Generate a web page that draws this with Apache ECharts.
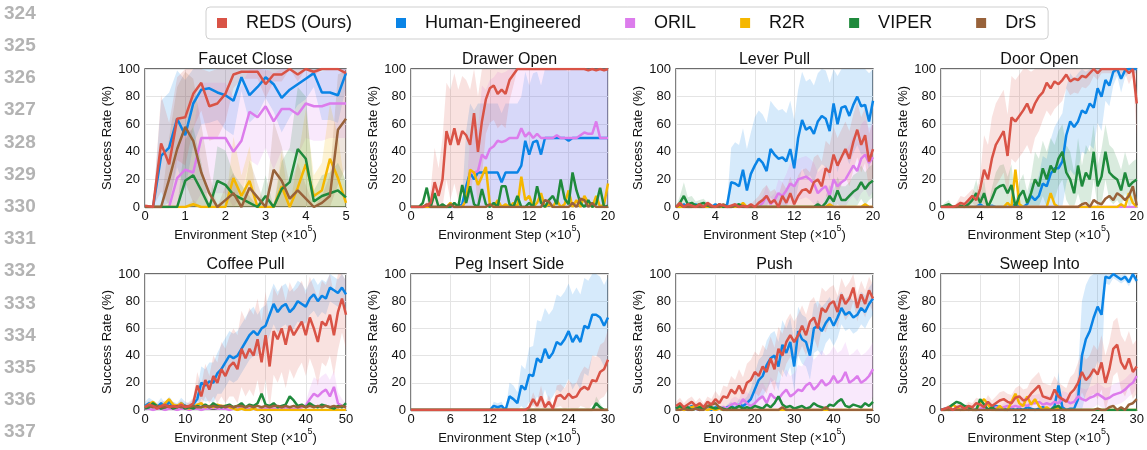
<!DOCTYPE html>
<html>
<head>
<meta charset="utf-8">
<script src="https://cdn.jsdelivr.net/npm/echarts@6/dist/echarts.min.js"></script>
<style>
  html, body { margin: 0; background: #fff; }
  #chart { width: 1147px; height: 450px; }
</style>
</head>
<body>
<div id="chart"></div>
<script>
// ---- labels ----
const methods = ['REDS (Ours)', 'Human-Engineered', 'ORIL', 'R2R', 'VIPER', 'DrS'];
const colors = ['#d95346', '#0a84e6', '#dc7cec', '#f5b700', '#1f8a3c', '#98623a'];
const titles = ['Faucet Close', 'Drawer Open', 'Lever Pull', 'Door Open',
                'Coffee Pull', 'Peg Insert Side', 'Push', 'Sweep Into'];
const xMax = [5, 20, 20, 20, 50, 30, 50, 30];
const xStep = [0.2, 0.4, 0.4, 0.4, 1, 0.6, 1, 0.6];
const xTickStep = [1, 4, 4, 4, 10, 6, 10, 6];
const yTicks = [0, 20, 40, 60, 80, 100];
const lineNumbers = ['324', '325', '326', '327', '328', '329', '330', '331', '332', '333', '334', '335', '336', '337'];

// ---- Faucet Close (step 0.2) ----
const fcReds  = [1,0,46,31,64,65,82,90,73,75,82,96,98,98,98,89,96,96,100,96,100,98,100,100,100,97];
const fcHuman = [0,0,37,43,64,52,75,85,86,83,81,77,94,81,87,94,89,79,85,89,93,97,83,83,81,97];
const fcOril  = [0,0,0,0,21,27,25,50,50,50,50,40,48,69,65,73,62,71,71,67,75,73,73,75,75,75];
const fcR2r   = [0,0,0,0,0,0,2,0,0,0,0,21,8,19,0,0,0,15,0,14,31,8,12,35,21,3];
const fcViper = [0,0,0,0,0,19,23,12,0,19,16,9,6,3,0,8,0,13,18,42,35,4,8,10,12,7];
const fcDrs   = [0,0,0,20,42,58,48,25,10,0,5,10,0,14,7,0,27,19,6,12,6,0,3,8,56,64];
const fcRedsSd  = [0,0,35,30,30,35,25,20,25,25,20,10,5,5,5,10,5,5,0,5,0,3,0,0,0,3];
const fcHumanSd = [0,0,40,40,35,40,30,25,25,20,25,25,10,20,20,15,20,25,20,15,15,10,20,20,20,10];
const fcOrilSd  = [0,0,0,0,20,30,30,40,40,40,40,40,40,35,35,30,35,30,30,30,25,25,25,25,25,25];
const fcR2rSd   = [0,0,0,0,0,0,3,0,0,0,0,30,15,25,0,0,0,25,0,20,40,15,20,40,30,8];
const fcViperSd = [0,0,0,0,0,30,35,20,0,25,25,15,10,5,0,15,0,20,25,45,45,8,15,15,20,12];
const fcDrsSd   = [0,0,0,30,45,40,45,35,15,0,10,15,0,20,10,0,35,25,10,20,10,0,5,15,40,35];

// ---- Drawer Open (step 0.4) ----
const drReds  = [0,0,0,0,1,3,18,8,20,55, 45,57,45,55,52,45,68,40,62,78, 86,88,82,85,82,92,96,100,100,100,
                 100,100,100,100,100,100,100,100,100,100, 100,100,100,100,100,99,100,99,100,99, 100];
const drHuman = [0,0,0,0,0,0,0,0,0,0, 0,0,0,2,15,25,20,25,25,25, 25,25,25,18,25,25,25,25,30,48,
                 38,47,48,38,50,50,50,50,50,50, 48,50,50,50,50,50,50,50,50,50, 50];
const drOril  = [0,0,0,0,0,0,0,0,0,0, 0,0,0,0,5,25,25,26,38,35, 42,44,48,47,48,50,50,50,57,51,
                 54,50,53,50,50,50,50,52,50,50, 50,50,50,52,54,53,53,62,50,50, 50];
const drR2r   = [0,0,0,0,0,0,0,0,0,0, 3,0,0,0,5,27,25,16,22,29, 2,0,5,0,2,0,3,0,22,5,
                 8,0,3,10,0,2,0,5,0,2, 12,0,5,0,8,3,0,8,0,2, 17];
const drViper = [0,0,0,3,14,0,10,0,2,0, 0,3,0,16,3,15,2,0,13,2, 0,3,0,15,15,2,0,8,0,0,
                 3,0,15,3,0,5,8,2,20,6, 2,25,12,3,0,5,0,2,14,0, 1];
const drDrs   = [0,0,0,0,2,0,0,0,0,0, 2,0,0,0,0,0,0,0,0,0, 2,0,0,0,0,0,0,0,0,0,
                 0,0,0,0,5,4,0,0,0,0, 0,3,0,6,5,0,3,0,0,0, 0];
const drRedsSd  = [0,0,0,0,3,10,25,20,30,35, 40,40,40,40,40,40,40,40,40,25, 25,25,25,25,25,15,8,0,0,0,
                   0,0,0,0,0,0,0,0,0,0, 0,0,0,0,0,0,0,0,0,0, 0];
const drHumanSd = [0,0,0,0,0,0,0,0,0,0, 0,0,0,5,40,50,50,50,50,50, 50,50,50,50,50,50,50,50,50,50,
                   50,50,50,50,50,50,50,50,50,50, 50,50,50,50,50,50,50,50,50,50, 50];
const drOrilSd  = [0,0,0,0,0,0,0,0,0,0, 0,0,0,0,5,25,30,30,50,50, 50,50,50,50,50,50,50,50,50,50,
                   50,50,50,50,50,50,50,50,50,50, 50,50,50,50,50,50,50,50,50,50, 50];

// ---- Lever Pull (step 0.4) ----
const lpReds  = [0,3,0,2,1,0,2,0,3,1, 0,2,1,0,1,2,0,1,0,2, 0,3,5,8,3,5,0,8,3,10,
                 2,8,12,13,10,18,20,15,28,25, 38,30,36,42,35,47,56,45,52,33, 42];
const lpHuman = [0,0,2,0,0,2,0,0,0,0, 2,0,0,2,18,17,15,27,12,24, 30,35,32,26,42,38,35,36,33,42,
                 28,50,63,56,58,53,62,66,64,55, 75,60,72,73,66,74,80,73,74,62, 77];
const lpOril  = [0,0,0,0,0,0,0,0,0,0, 0,0,0,0,0,0,0,0,0,0, 0,0,3,8,2,5,10,8,12,17,
                 15,20,21,22,20,17,10,13,15,8, 20,15,18,20,25,30,26,35,38,32, 36];
const lpR2r   = [0,0,0,0,0,0,0,0,0,0, 0,0,0,0,0,0,0,3,0,0, 0,0,0,0,0,0,0,0,0,0,
                 0,0,0,0,0,0,0,0,0,2, 0,0,0,0,0,0,0,0,2,0, 0];
const lpViper = [0,3,8,2,3,1,2,3,1,0, 0,2,0,0,0,1,2,0,0,0, 0,0,0,0,0,0,0,0,0,0,
                 0,0,0,0,0,0,2,0,3,8, 4,12,5,5,8,11,13,18,13,17, 19];
const lpDrs   = [0,2,0,0,0,0,0,0,2,0, 0,0,2,0,0,1,0,0,0,0, 0,0,0,0,0,0,0,0,0,0,
                 0,0,0,0,0,0,0,0,0,0, 0,0,0,0,0,0,0,0,0,0, 0];
const lpRedsSd  = [0,0,0,0,0,0,0,0,0,0, 0,0,0,0,0,0,0,0,0,0, 5,5,8,8,8,8,8,10,10,12,
                   12,15,15,15,15,18,18,18,20,20, 20,20,20,20,20,20,20,20,20,20, 20];
const lpHumanSd = [0,0,0,0,0,0,0,0,0,0, 0,0,0,3,25,30,30,30,30,30, 35,35,35,35,35,35,35,35,35,35,
                   35,35,35,35,35,35,35,35,35,35, 35,35,35,35,35,35,35,35,35,35, 35];
const lpOrilSd  = [0,0,0,0,0,0,0,0,0,0, 0,0,0,0,0,0,0,0,0,0, 0,0,5,8,5,5,10,10,12,15,
                   15,15,15,15,15,15,15,15,15,15, 18,18,18,20,20,22,22,25,25,25, 25];
const lpViperSd = [0,5,10,5,5,3,3,3,2,0, 0,0,0,0,0,0,0,0,0,0, 0,0,0,0,0,0,0,0,0,0,
                   0,0,0,0,0,0,3,0,5,8, 8,10,10,10,10,12,12,12,12,12, 12];

// ---- Door Open (step 0.4) ----
const dorReds  = [0,0,0,0,1,3,2,5,8,5, 13,27,20,35,45,50,55,37,65,62, 66,70,75,68,75,80,83,90,86,91,
                  89,92,96,91,93,92,95,94,97,100, 97,100,100,100,100,100,100,100,97,100, 75];
const dorHuman = [0,0,0,0,0,0,0,0,0,0, 2,0,0,1,0,0,0,0,0,2, 0,0,2,8,5,8,17,15,24,28,
                  28,33,52,62,58,62,70,68,75,72, 86,80,92,88,98,100,93,99,100,100, 100];
const dorOril  = [0,0,0,0,0,0,0,0,0,0, 0,0,0,0,0,0,0,0,0,0, 0,0,0,0,0,0,0,0,0,0,
                  0,0,0,0,0,0,0,0,0,0, 0,0,0,0,0,0,0,0,0,0, 0];
const dorR2r   = [0,0,0,0,0,0,0,0,0,0, 0,0,0,0,0,0,0,3,0,27, 2,0,0,0,0,0,0,0,10,2,
                  0,0,0,0,0,0,0,0,0,0, 0,0,0,0,0,0,2,0,10,3, 0];
const dorViper = [0,1,2,0,0,1,0,2,5,10, 3,10,0,6,13,15,16,10,16,0, 8,12,3,10,20,15,28,20,30,25,
                  35,40,25,20,10,30,15,25,20,40, 15,22,40,25,22,20,12,25,15,18, 20];
const dorDrs   = [0,0,0,0,0,0,0,0,0,0, 0,0,0,0,0,0,0,0,0,0, 0,0,0,0,0,0,0,0,0,0,
                  0,0,0,0,0,0,2,3,0,5, 3,2,6,8,5,10,8,5,8,15, 1];
const dorRedsSd  = [0,0,0,0,2,5,5,5,5,5, 10,25,25,30,30,30,30,30,30,30, 30,30,30,30,25,25,20,20,20,20,
                    15,15,10,10,10,10,8,8,8,5, 5,3,3,3,3,3,3,3,8,5, 25];
const dorHumanSd = [0,0,0,0,0,0,0,0,0,0, 0,0,0,0,0,0,0,0,0,0, 0,0,3,10,10,15,20,20,25,30,
                    35,35,35,35,35,35,30,30,30,30, 25,25,15,15,10,5,10,5,3,3, 3];
const dorViperSd = [0,2,3,0,0,2,0,3,5,10, 5,10,0,8,12,15,15,12,15,5, 10,12,8,12,20,20,20,20,20,20,
                    20,20,20,20,15,20,15,20,20,20, 15,20,20,20,20,15,15,15,15,15, 15];

// ---- Coffee Pull (step 1) ----
const cpReds  = [2,4,3,1,3,4,2,3,2,4, 2,3,5,18,10,22,15,25,20,30, 25,32,35,30,45,38,45,40,52,35,
                 55,32,58,52,60,48,62,55,60,65, 55,68,60,50,65,62,70,55,72,82, 70];
const cpHuman = [3,5,4,2,5,2,6,3,2,5, 3,2,4,8,20,18,21,20,27,30, 35,40,38,40,45,50,55,58,55,60,
                 62,70,78,72,76,78,72,75,80,78, 76,82,85,80,84,82,90,88,86,90, 85];
const cpOril  = [1,1,0,1,1,0,1,1,0,1, 1,0,1,1,0,1,1,2,1,1, 1,0,1,1,2,1,1,1,0,1,
                 1,2,1,1,1,2,1,1,1,2, 3,8,12,10,13,15,10,17,5,3, 2];
const cpR2r   = [2,4,6,3,2,5,8,4,3,5, 2,1,2,4,5,2,3,2,4,3, 3,2,1,0,1,0,0,1,0,0,
                 0,0,0,0,0,0,0,0,0,0, 0,0,0,0,0,0,0,0,0,0, 0];
const cpViper = [1,2,5,3,1,2,3,1,2,3, 1,2,1,3,2,4,2,5,3,2, 3,4,2,3,5,2,4,3,5,12,
                 4,3,5,2,3,4,10,7,3,4, 2,5,3,2,4,3,2,1,3,2, 5];
const cpDrs   = [2,3,2,3,2,2,3,2,3,2, 3,2,3,2,2,3,2,3,2,3, 2,3,2,3,3,2,3,2,3,2,
                 3,2,3,3,2,3,2,3,2,3, 2,3,2,3,2,3,2,3,2,3, 2];
const cpRedsSd  = [2,3,3,2,3,3,2,3,2,3, 2,3,4,10,8,12,10,15,15,20, 20,22,25,25,28,28,30,30,30,30,
                   32,32,32,32,32,32,32,32,30,30, 30,30,30,32,30,30,30,30,28,25, 25];
const cpHumanSd = [3,4,3,3,4,3,4,3,3,4, 3,3,4,8,12,12,14,15,15,18, 18,18,18,18,18,18,18,18,15,15,
                   15,15,15,15,15,15,15,15,15,15, 12,12,12,12,12,12,10,10,10,10, 10];
const cpOrilSd  = [0,0,0,0,0,0,0,0,0,0, 0,0,0,0,0,0,0,0,0,0, 0,0,0,0,0,0,0,0,0,0,
                   0,0,0,0,0,0,0,0,0,0, 3,8,12,12,12,12,12,12,8,5, 3];

// ---- Peg Insert Side (step 0.6) ----
const pgReds  = [0,0,0,0,0,0,0,0,0,0, 0,0,0,0,0,0,0,0,0,0, 0,0,0,0,0,0,0,0,0,0,
                 2,8,3,10,2,6,1,10,11,8, 12,9,10,15,17,15,22,21,28,30, 37];
const pgHuman = [0,0,0,0,0,0,0,0,0,0, 0,0,0,0,0,0,0,0,0,0, 0,3,2,3,0,10,8,5,18,15,
                 26,25,38,35,45,38,42,50,48,52, 58,50,55,50,62,60,70,70,68,62, 68];
const pgOril  = [0,0,0,0,0,0,0,0,0,0, 0,0,0,0,0,0,0,0,0,0, 0,0,0,0,0,0,0,0,0,0,
                 0,0,0,0,0,0,0,0,0,0, 0,0,0,0,0,0,0,0,0,0, 0];
const pgR2r   = [0,0,0,0,0,0,0,0,0,0, 0,0,0,0,0,0,0,0,0,0, 0,0,0,0,0,0,0,0,0,0,
                 0,0,0,0,0,0,0,0,0,0, 0,0,0,0,0,0,0,0,0,0, 0];
const pgViper = [0,0,0,0,0,0,0,0,0,0, 0,0,0,0,0,0,0,0,0,0, 0,0,0,0,0,0,0,0,0,0,
                 0,0,0,0,0,0,0,0,0,0, 0,0,0,0,0,0,0,5,2,0, 0];
const pgDrs   = [0,0,0,0,0,0,0,0,0,0, 0,0,0,0,0,0,0,0,0,0, 0,0,0,0,0,0,0,0,0,0,
                 0,0,0,0,0,0,0,0,0,0, 0,0,0,0,0,0,0,0,0,0, 0];
const pgRedsSd  = [0,0,0,0,0,0,0,0,0,0, 0,0,0,0,0,0,0,0,0,0, 0,0,0,0,0,0,0,0,0,0,
                   2,5,3,8,3,5,2,8,8,8, 10,10,10,12,15,15,18,18,20,20, 22];
const pgHumanSd = [0,0,0,0,0,0,0,0,0,0, 0,0,0,0,0,0,0,0,0,0, 0,3,3,3,0,10,10,8,15,15,
                   20,22,28,30,30,32,32,35,35,35, 35,35,35,35,35,35,30,30,30,30, 30];
const pgViperSd = [0,0,0,0,0,0,0,0,0,0, 0,0,0,0,0,0,0,0,0,0, 0,0,0,0,0,0,0,0,0,0,
                   0,0,0,0,0,0,0,0,0,0, 0,0,0,0,0,0,0,5,3,0, 0];

// ---- Push (step 1) ----
const psReds  = [3,5,2,4,6,3,5,2,6,4, 8,5,10,9,15,12,18,12,20,22, 28,25,32,28,38,30,45,40,50,55,
                 50,55,62,55,65,68,60,75,72,78, 80,72,85,78,82,90,75,85,78,88, 82];
const psHuman = [1,2,0,1,3,1,0,2,1,0, 2,1,0,2,3,1,4,3,5,8, 15,22,25,33,38,40,32,48,42,50,
                 32,58,52,50,40,60,62,58,64,68, 62,68,75,70,72,68,70,75,72,78, 82];
const psOril  = [0,1,0,1,2,1,0,1,2,1, 0,1,2,1,4,5,3,8,5,3, 5,8,10,5,12,9,8,12,15,10,
                 12,15,14,18,20,15,18,22,18,20, 25,20,22,28,20,22,25,20,22,25, 30];
const psR2r   = [0,1,0,1,2,3,4,1,0,1, 0,1,0,0,0,0,0,0,0,0, 0,0,0,0,0,0,0,0,0,0,
                 0,0,0,0,0,0,0,0,0,0, 0,0,0,0,0,0,0,0,0,0, 0];
const psViper = [1,3,1,2,0,1,2,1,3,2, 1,2,1,0,2,1,3,1,2,1, 3,2,1,4,2,5,10,4,2,3,
                 1,2,3,1,2,5,3,2,1,4, 3,6,8,3,2,4,3,2,5,3, 6];
const psDrs   = [0,0,1,0,0,1,0,0,3,4, 5,2,0,0,0,0,0,0,0,0, 0,0,0,0,0,0,0,2,0,0,
                 0,0,0,0,0,0,0,0,2,0, 0,0,0,0,0,0,0,0,0,0, 0];
const psRedsSd  = [3,4,3,4,4,3,4,3,4,4, 6,5,8,8,10,10,12,12,14,15, 15,15,16,16,16,16,16,16,16,16,
                   15,15,15,15,15,15,15,15,15,12, 12,12,12,12,12,10,10,10,10,10, 10];
const psHumanSd = [2,2,1,2,2,2,1,2,2,1, 2,2,1,2,3,2,4,4,5,8, 12,15,15,18,18,18,18,18,18,18,
                   18,18,18,18,18,18,18,18,15,15, 15,15,12,12,12,12,12,12,12,12, 12];
const psOrilSd  = [0,1,0,1,2,1,0,1,2,1, 0,1,2,1,4,5,5,8,8,8, 8,10,10,10,12,12,12,14,15,15,
                   15,18,18,20,22,22,22,22,22,22, 22,22,22,22,20,20,20,20,20,20, 20];

// ---- Sweep Into (step 0.6) ----
const swReds  = [0,1,2,0,2,3,1,3,2,5, 4,2,6,3,5,7,8,6,5,9, 10,7,8,12,15,18,10,9,8,15,
                 10,8,6,12,15,20,28,22,25,30, 26,35,20,30,45,48,35,30,38,28, 32];
const swHuman = [0,1,0,0,1,0,2,0,1,0, 0,1,0,2,3,2,1,0,1,0, 1,0,2,1,0,1,2,1,0,3,
                 18,2,0,1,1,8,40,52,58,68, 76,70,98,97,100,98,96,98,94,100, 95];
const swOril  = [0,0,1,0,1,0,1,2,1,0, 1,2,1,0,2,1,2,3,2,3, 2,4,3,5,5,6,4,5,4,6,
                 5,8,7,5,6,10,8,7,9,10, 12,10,8,9,11,12,13,15,18,20, 25];
const swR2r   = [0,0,0,4,2,0,0,3,0,0, 5,8,4,0,0,3,0,0,6,12, 5,3,10,4,8,3,0,2,0,0,
                 2,0,0,0,0,0,0,0,0,0, 0,0,0,0,0,0,0,0,0,0, 0];
const swViper = [0,0,2,4,6,5,3,2,0,0, 8,4,0,2,0,0,0,0,0,0, 0,0,0,0,0,0,0,0,0,2,
                 3,0,0,0,0,0,0,0,0,0, 0,0,0,0,0,0,0,0,0,0, 0];
const swDrs   = [0,0,0,0,0,0,0,0,0,0, 0,0,0,0,0,0,0,0,0,0, 0,0,0,0,0,0,0,0,0,0,
                 0,0,0,0,0,0,0,0,0,0, 1,0,0,2,3,0,2,0,4,5, 8];
const swRedsSd  = [1,1,2,1,2,3,2,3,3,4, 4,3,5,4,5,6,6,6,6,7, 8,8,8,10,10,10,10,10,10,10,
                   10,10,10,12,12,15,15,15,15,18, 18,20,20,20,20,20,20,20,20,20, 20];
const swHumanSd = [0,0,0,0,0,0,0,0,0,0, 0,0,0,0,0,0,0,0,0,0, 0,0,0,0,0,0,0,0,0,2,
                   10,2,0,0,0,20,40,40,40,40, 40,40,5,5,3,3,3,3,3,3, 3];
const swOrilSd  = [0,0,1,0,1,0,1,2,1,0, 1,2,1,0,2,2,3,4,4,5, 5,6,6,6,6,6,6,6,6,6,
                   6,6,6,6,6,8,8,8,8,8, 8,8,8,8,8,8,8,8,8,8, 8];

// series order per panel: REDS, Human, ORIL, R2R, VIPER, DrS
const panels = [
  { lines: [fcReds, fcHuman, fcOril, fcR2r, fcViper, fcDrs], sds: [fcRedsSd, fcHumanSd, fcOrilSd, fcR2rSd, fcViperSd, fcDrsSd] },
  { lines: [drReds, drHuman, drOril, drR2r, drViper, drDrs], sds: [drRedsSd, drHumanSd, drOrilSd, null, null, null] },
  { lines: [lpReds, lpHuman, lpOril, lpR2r, lpViper, lpDrs], sds: [lpRedsSd, lpHumanSd, lpOrilSd, null, lpViperSd, null] },
  { lines: [dorReds, dorHuman, dorOril, dorR2r, dorViper, dorDrs], sds: [dorRedsSd, dorHumanSd, null, null, dorViperSd, null] },
  { lines: [cpReds, cpHuman, cpOril, cpR2r, cpViper, cpDrs], sds: [cpRedsSd, cpHumanSd, cpOrilSd, null, null, null] },
  { lines: [pgReds, pgHuman, pgOril, pgR2r, pgViper, pgDrs], sds: [pgRedsSd, pgHumanSd, null, null, pgViperSd, null] },
  { lines: [psReds, psHuman, psOril, psR2r, psViper, psDrs], sds: [psRedsSd, psHumanSd, psOrilSd, null, null, null] },
  { lines: [swReds, swHuman, swOril, swR2r, swViper, swDrs], sds: [swRedsSd, swHumanSd, swOrilSd, null, null, null] }
];

// ---- layout ----
const colLeft = [145, 411, 676, 941];
const colWidth = [201, 197, 197, 197];
const rowTop = [69, 274];
const plotH = 138;
const font = 'Liberation Sans, Arial, Helvetica, sans-serif';
// draw order: Human, ORIL, R2R, VIPER, DrS, then REDS on top
const drawOrder = [1, 2, 3, 4, 5, 0];

const chart = echarts.init(document.getElementById('chart'));
const grid = [], xAxis = [], yAxis = [], title = [], series = [];

// one polygon per band: upper edge left->right, lower edge right->left
function bandRenderer(rows, color) {
  return function (params, api) {
    if (params.dataIndex !== 0) return null;
    const top = rows.map(d => api.coord([d[0], d[2]]));
    const bottom = rows.map(d => api.coord([d[0], d[1]])).reverse();
    return {
      type: 'polygon',
      shape: { points: top.concat(bottom) },
      style: { fill: color, opacity: 0.17 },
      silent: true
    };
  };
}

panels.forEach((p, k) => {
  const r = Math.floor(k / 4), c = k % 4;
  const step = xStep[k];
  grid.push({
    left: colLeft[c], top: rowTop[r], width: colWidth[c], height: plotH,
    show: true, borderColor: '#3c3c3c', borderWidth: 1.3, backgroundColor: 'transparent'
  });
  xAxis.push({
    type: 'value', gridIndex: k, min: 0, max: xMax[k], interval: xTickStep[k],
    axisLine: { show: false }, axisTick: { show: false },
    axisLabel: { fontSize: 13, color: '#111', margin: 3, fontFamily: font },
    splitLine: { show: true, lineStyle: { color: '#e4e4e4', width: 1 } },
    name: 'Environment Step (×10{sup|5})', nameLocation: 'middle', nameGap: 17,
    nameTextStyle: {
      fontSize: 13, color: '#111', fontFamily: font, lineHeight: 22,
      rich: { sup: { fontSize: 9, color: '#111', verticalAlign: 'top', lineHeight: 9, fontFamily: font } }
    }
  });
  yAxis.push({
    type: 'value', gridIndex: k, min: yTicks[0], max: yTicks[yTicks.length - 1], interval: yTicks[1] - yTicks[0],
    axisLine: { show: false }, axisTick: { show: false },
    axisLabel: { fontSize: 13, color: '#111', margin: 5, fontFamily: font },
    splitLine: { show: true, lineStyle: { color: '#e4e4e4', width: 1 } },
    name: 'Success Rate (%)', nameLocation: 'middle', nameGap: 26,
    nameTextStyle: { fontSize: 13, color: '#111', fontFamily: font }
  });
  title.push({
    text: titles[k], left: colLeft[c] + colWidth[c] / 2, top: rowTop[r] - 17, textAlign: 'center', padding: 0,
    textStyle: { fontSize: 16, fontWeight: 'normal', color: '#111', fontFamily: font }
  });

  // shaded spread bands first
  drawOrder.forEach(m => {
    const sd = p.sds[m];
    if (!sd) return;
    const rows = p.lines[m].map((v, i) => [
      i * step,
      Math.max(0, v - (sd[i] || 0)),
      Math.min(100, v + (sd[i] || 0))
    ]);
    series.push({
      type: 'custom', name: 'band', xAxisIndex: k, yAxisIndex: k,
      data: rows, renderItem: bandRenderer(rows, colors[m]),
      encode: { x: 0, y: [1, 2] }, silent: true, z: 1
    });
  });

  // mean curves
  drawOrder.forEach(m => {
    series.push({
      type: 'line', name: methods[m], xAxisIndex: k, yAxisIndex: k,
      data: p.lines[m].map((v, i) => [i * step, v]),
      symbol: 'none', showSymbol: false, silent: true,
      lineStyle: { width: 2.5, color: colors[m] }, itemStyle: { color: colors[m] }, z: 2
    });
  });
});

const graphic = lineNumbers.map((t, i) => ({
  type: 'text', left: 4, top: 4 + i * 32.2,
  style: { text: t, fill: '#b3b3b3', font: 'bold 19px ' + font }
}));

chart.setOption({
  animation: false,
  textStyle: { fontFamily: font },
  title: title,
  legend: {
    data: methods, left: 206, top: 7, icon: 'rect', itemWidth: 10, itemHeight: 10, itemGap: 44,
    padding: [7, 12, 7, 11], borderColor: '#cfcfcf', borderWidth: 1, borderRadius: 4,
    textStyle: { fontSize: 18, color: '#111', fontFamily: font, padding: [0, 0, 0, 14] }
  },
  grid: grid,
  xAxis: xAxis,
  yAxis: yAxis,
  series: series,
  graphic: graphic
});
</script>
</body>
</html>
